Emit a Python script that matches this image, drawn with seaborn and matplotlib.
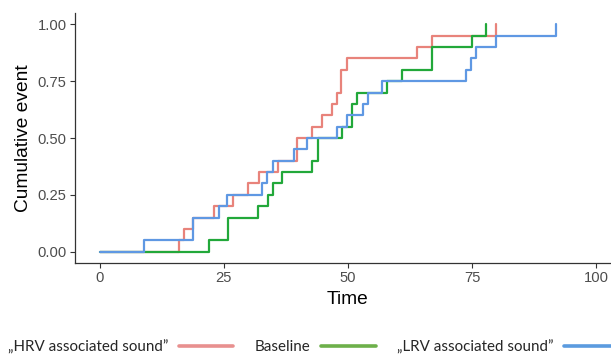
import numpy as np
import pandas as pd
import seaborn as sns
import matplotlib
matplotlib.use("Agg")
import matplotlib.pyplot as plt
from matplotlib.lines import Line2D

# ---- data ----
groups = ["\u201eHRV associated sound\u201d", "Baseline", "\u201eLRV associated sound\u201d"]

hrv_time = [0, 16, 17, 18.7, 23, 26.8, 29.8, 32, 35.8, 39.7, 42.8, 44.8, 46.7, 47.8, 48.6, 49.7, 63.9, 66.9, 79.9]
hrv_cum = [0, 0.05, 0.10, 0.15, 0.20, 0.25, 0.30, 0.35, 0.40, 0.50, 0.55, 0.60, 0.65, 0.70, 0.80, 0.85, 0.90, 0.95, 1.00]

base_time = [0, 22, 25.8, 31.9, 33.9, 34.8, 36.8, 42.8, 43.9, 48.8, 50.8, 51.8, 57.9, 60.9, 67, 75, 77.8]
base_cum = [0, 0.05, 0.15, 0.20, 0.25, 0.30, 0.35, 0.40, 0.50, 0.55, 0.65, 0.70, 0.75, 0.80, 0.90, 0.95, 1.00]

lrv_time = [0, 8.9, 18.7, 24, 25.7, 32.7, 33.7, 34.8, 39.1, 41.8, 47.8, 49.8, 53, 54, 56.9, 73.8, 74.8, 75.8, 79.9, 91.9]
lrv_cum = [0, 0.05, 0.15, 0.20, 0.25, 0.30, 0.35, 0.40, 0.45, 0.50, 0.55, 0.60, 0.65, 0.70, 0.75, 0.80, 0.85, 0.90, 0.95, 1.00]

x_ticks = [0, 25, 50, 75, 100]
y_ticks = [0.0, 0.25, 0.5, 0.75, 1.0]
y_tick_labels = ["0.00", "0.25", "0.50", "0.75", "1.00"]

colors = ["#E8837B", "#22A83A", "#5F98E3"]
legend_colors = ["#E8908F", "#6DB04A", "#5B9BDF"]

df = pd.concat([
    pd.DataFrame({"time": hrv_time, "cum": hrv_cum, "group": groups[0]}),
    pd.DataFrame({"time": base_time, "cum": base_cum, "group": groups[1]}),
    pd.DataFrame({"time": lrv_time, "cum": lrv_cum, "group": groups[2]}),
])

sns.set_theme(style="white")
plt.rcParams["font.family"] = ["Liberation Sans", "DejaVu Sans"]

fig = plt.figure(figsize=(6.11, 3.55), dpi=100)
ax = fig.add_axes([75 / 611, 1 - 263 / 355, (621 - 75) / 611, (263 - 13) / 355])

sns.lineplot(data=df, x="time", y="cum", hue="group", hue_order=groups,
             palette=dict(zip(groups, colors)), drawstyle="steps-post",
             estimator=None, errorbar=None, linewidth=1.6, ax=ax, legend=False)

ax.set_xlim(-5, 105)
ax.set_ylim(-0.05, 1.05)
ax.set_xticks(x_ticks)
ax.set_xticklabels([str(t) for t in x_ticks])
ax.set_yticks(y_ticks)
ax.set_yticklabels(y_tick_labels)
ax.set_xlabel("Time", fontsize=13.8, color="black", labelpad=4)
ax.set_ylabel("Cumulative event", fontsize=13.8, color="black", labelpad=4)
ax.tick_params(axis="both", which="major", labelsize=10.6, labelcolor="#4D4D4D",
               color="#333333", length=3.5, width=0.8, direction="out", pad=2.5,
               bottom=True, left=True)
for s in ["top", "right"]:
    ax.spines[s].set_visible(False)
for s in ["left", "bottom"]:
    ax.spines[s].set_color("#333333")
    ax.spines[s].set_linewidth(0.9)

handles = [Line2D([0], [0], color=c, lw=2.6) for c in legend_colors]
fig.legend(handles, groups, loc="center left", bbox_to_anchor=(8 / 611, 1 - 347 / 355),
           ncol=3, frameon=False, markerfirst=False, borderpad=0, borderaxespad=0,
           handlelength=3.6, handletextpad=0.7, columnspacing=1.4,
           prop={"family": ["Lato", "DejaVu Sans"], "size": 10.9})

fig.savefig("out.png", dpi=100)
